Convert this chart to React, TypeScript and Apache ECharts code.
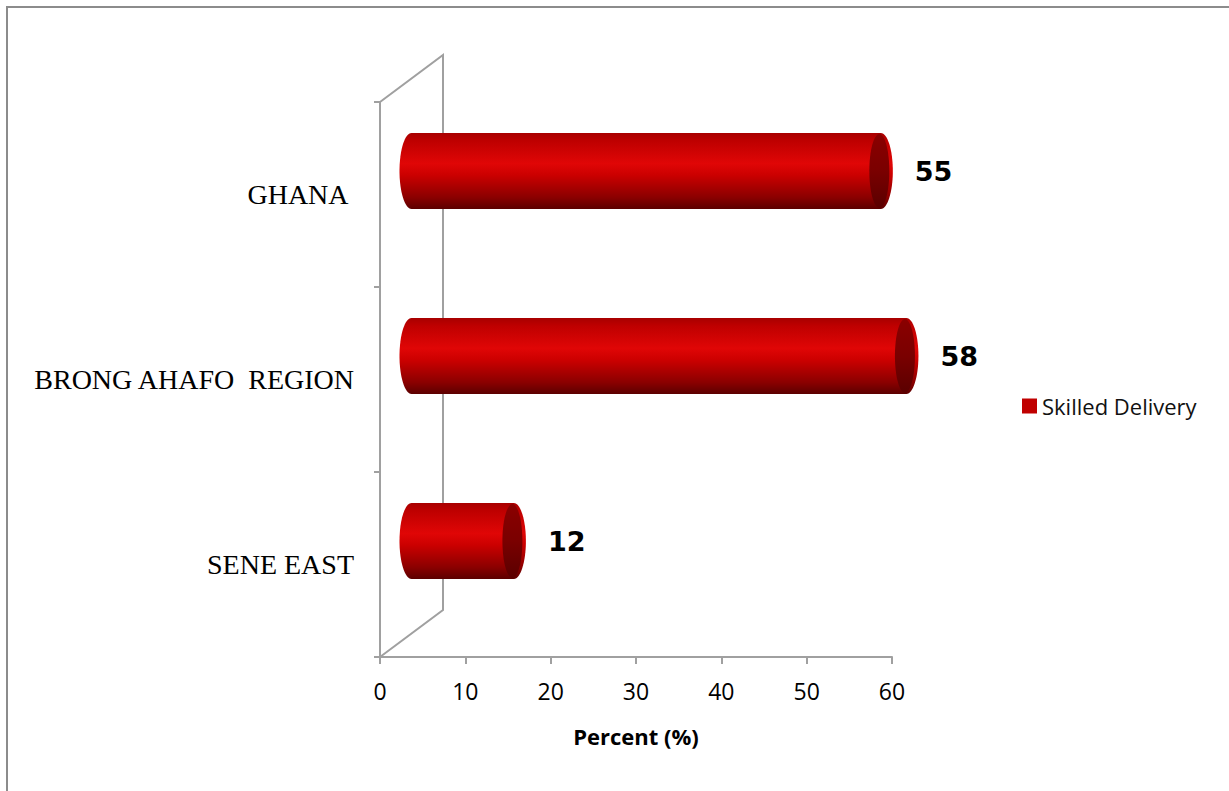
import React, { useEffect, useRef } from "react";
import * as echarts from "echarts";

const categories = ["GHANA ", "BRONG AHAFO  REGION", "SENE EAST"];
const skilledDelivery = [55, 58, 12];
const xTicks = { min: 0, max: 60, interval: 10 };
const seriesName = "Skilled Delivery";

const GRID = { left: 380, right: 337, top: 102, bottom: 134 };
const DEPTH = { dx: 63, dy: -47 };

export default function App() {
  const ref = useRef<HTMLDivElement>(null);
  useEffect(() => {
    if (!ref.current) return;
    const chart = echarts.init(ref.current, undefined, { renderer: "svg" });
    const x0 = GRID.left;
    const y0 = GRID.top;
    const y1 = 791 - GRID.bottom;
    const axisColor = "#A0A0A0";
    const bodyGrad = new echarts.graphic.LinearGradient(0, 0, 0, 1, [
      { offset: 0, color: "#A80000" },
      { offset: 0.1, color: "#BE0000" },
      { offset: 0.4, color: "#E00606" },
      { offset: 0.55, color: "#CC0000" },
      { offset: 0.85, color: "#8A0000" },
      { offset: 1, color: "#5C0000" },
    ]);
    const capGrad = new echarts.graphic.LinearGradient(0, 0, 0, 1, [
      { offset: 0, color: "#8A0000" },
      { offset: 0.5, color: "#7A0000" },
      { offset: 1, color: "#5A0000" },
    ]);
    chart.setOption({
      animation: false,
      backgroundColor: "#FFFFFF",
      grid: { left: GRID.left, right: GRID.right, top: GRID.top, bottom: GRID.bottom },
      legend: {
        left: 1017,
        top: 390,
        orient: "vertical",
        itemWidth: 15,
        itemHeight: 15,
        icon: "rect",
        itemGap: 6,
        textStyle: { fontFamily: "Open Sans", fontSize: 22, color: "#111" },
        data: [{ name: seriesName, itemStyle: { color: "#C00000" } }],
      },
      xAxis: {
        type: "value",
        min: xTicks.min,
        max: xTicks.max,
        interval: xTicks.interval,
        splitLine: { show: false },
        axisLine: { show: true, lineStyle: { color: axisColor, width: 2 } },
        axisTick: { show: true, length: 7, lineStyle: { color: axisColor, width: 2 } },
        axisLabel: { color: "#000", fontFamily: "Open Sans", fontSize: 23, margin: 22 },
        name: "Percent (%)",
        nameLocation: "middle",
        nameGap: 68,
        nameTextStyle: { color: "#000", fontFamily: "Open Sans", fontSize: 22, fontWeight: "bold" },
      },
      yAxis: {
        type: "category",
        inverse: true,
        data: categories,
        boundaryGap: true,
        axisLine: { show: true, lineStyle: { color: axisColor, width: 2 } },
        axisTick: { show: true, length: 6, lineStyle: { color: axisColor, width: 2 } },
        axisLabel: {
          color: "#000",
          fontFamily: "Liberation Serif",
          fontSize: 28,
          margin: 26,
        },
      },
      graphic: [
        {
          type: "rect",
          shape: { x: 7, y: 7, width: 1400, height: 1000 },
          style: { fill: "none", stroke: "#8C8C8C", lineWidth: 2 },
          silent: true,
        },
        {
          type: "polyline",
          shape: {
            points: [
              [x0, y0],
              [x0 + DEPTH.dx, y0 + DEPTH.dy],
              [x0 + DEPTH.dx, y1 + DEPTH.dy],
              [x0, y1],
            ],
          },
          style: { fill: "none", stroke: axisColor, lineWidth: 2 },
          silent: true,
        },
      ],
      series: [
        {
          name: seriesName,
          type: "custom",
          clip: false,
          itemStyle: { color: "#C00000" },
          data: skilledDelivery.map((v, i) => [v, i]),
          renderItem: (params: any, api: any) => {
            const val = api.value(0);
            const idx = api.value(1);
            const s = api.coord([0, idx]);
            const e = api.coord([val, idx]);
            const band = api.size([0, 1])[1];
            const h = band * 0.41;
            const cy = s[1] + DEPTH.dy / 2;
            const xl = s[0] + DEPTH.dx / 2;
            const xr = e[0] + DEPTH.dx / 2;
            const rx = 12;
            const ry = h / 2;
            return {
              type: "group",
              children: [
                {
                  type: "ellipse",
                  shape: { cx: xl, cy, rx, ry },
                  style: { fill: bodyGrad },
                },
                {
                  type: "rect",
                  shape: { x: xl, y: cy - ry, width: xr - xl, height: h },
                  style: { fill: bodyGrad },
                },
                {
                  type: "ellipse",
                  shape: { cx: xr, cy, rx, ry },
                  style: { fill: bodyGrad },
                },
                {
                  type: "ellipse",
                  shape: { cx: xr - 1.5, cy, rx: rx - 2, ry: ry - 1 },
                  style: { fill: capGrad },
                },
                {
                  type: "text",
                  style: {
                    x: xr + 34,
                    y: cy,
                    text: String(val),
                    fill: "#000",
                    font: "bold 27px 'DejaVu Sans'",
                    align: "left",
                    verticalAlign: "middle",
                  },
                },
              ],
            };
          },
        },
      ],
    });
    return () => chart.dispose();
  }, []);
  return (
    <div
      ref={ref}
      style={{ position: "absolute", left: 0, top: 0, width: 1229, height: 791 }}
    />
  );
}
